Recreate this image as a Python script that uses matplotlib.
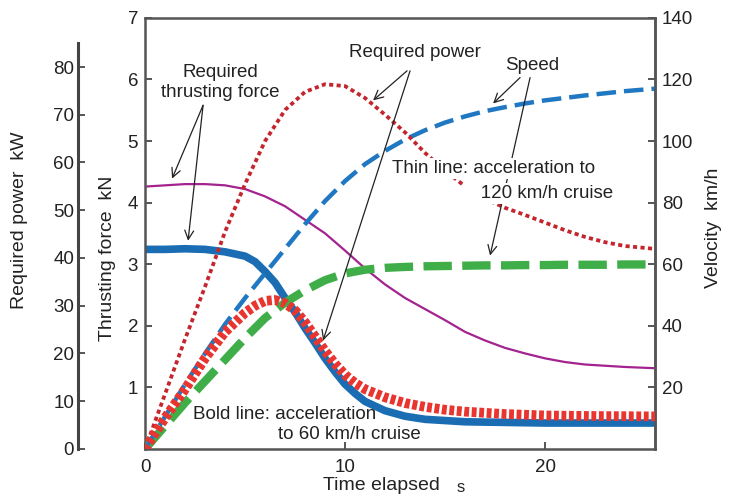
import matplotlib.pyplot as plt

plt.rcParams['font.family'] = ['Liberation Sans', 'DejaVu Sans']

# time axes (s)
t_grid = [0, 1, 2, 3, 4, 5, 6, 7, 8, 9, 10, 11, 12, 13, 14, 15, 16, 17, 18, 19, 20, 21, 22, 23, 24, 25.5]
t_fine = [0, 1, 2, 3, 4, 5, 5.5, 6, 6.5, 7, 7.5, 8, 8.5, 9, 9.5, 10, 10.5, 11, 12, 13, 14, 15, 16, 18, 20, 22, 25.5]

# thin line: acceleration to 120 km/h cruise
force_thin = [4.26, 4.28, 4.30, 4.30, 4.28, 4.22, 4.10, 3.94, 3.72, 3.50, 3.22, 2.93, 2.67, 2.45, 2.27, 2.09,
              1.90, 1.76, 1.64, 1.55, 1.47, 1.41, 1.37, 1.35, 1.33, 1.31]          # kN
speed_thin = [0, 10.5, 21, 31, 40.5, 49, 57, 65, 73, 80.5, 87, 92.5, 96.8, 100.5, 103.5, 106,
              108, 109.7, 111, 112.2, 113.2, 114, 114.8, 115.5, 116.2, 117]         # km/h
power_thin = [0, 11.5, 23, 34, 45.5, 55.5, 64.5, 71, 74.8, 76.4, 76, 73.5, 70, 66.3, 62, 58.3,
              55, 52.4, 50.5, 49, 47.4, 45.8, 44.4, 43.3, 42.5, 41.9]               # kW

# bold line: acceleration to 60 km/h cruise
speed_bold = [0, 7.5, 15, 22, 29, 36, 42.5, 47.5, 51.5, 54.8, 57, 58.2, 58.8, 59.1, 59.3, 59.4,
              59.5, 59.6, 59.6, 59.7, 59.7, 59.8, 59.8, 59.8, 59.9, 59.9]           # km/h
force_bold = [3.24, 3.24, 3.25, 3.24, 3.20, 3.13, 3.04, 2.88, 2.70, 2.45, 2.22, 1.96, 1.72, 1.47,
              1.25, 1.05, 0.90, 0.77, 0.62, 0.53, 0.48, 0.46, 0.44, 0.43, 0.42, 0.42, 0.42]  # kN
power_bold = [0, 6.5, 12.5, 19, 24.5, 28.5, 30, 31, 31.2, 30.5, 29, 26.5, 23.5, 20.5, 17.8, 15.5,
              13.8, 12.5, 10.8, 9.6, 8.8, 8.2, 7.8, 7.3, 7.0, 6.9, 6.8]              # kW

spine_c = '#555555'
text_c = '#222222'

fig = plt.figure(figsize=(7.29, 4.96), dpi=100)
ax = fig.add_axes([0.199, 0.095, 0.6996, 0.869])
ax2 = ax.twinx()
ax3 = ax.twinx()

ax.set_xlim(0, 25.5)
ax.set_ylim(0, 7)
ax2.set_ylim(0, 140)
ax3.set_ylim(0, 90.3)

# force (left axis)
ax.plot(t_grid, force_thin, color='#a3238f', lw=1.6)
ax.plot(t_fine, force_bold, color='#1a6db3', lw=5.5)
# speed (right axis)
ax2.plot(t_grid, speed_bold, color='#3fae49', lw=6, dashes=(3.4, 1.25))
ax2.plot(t_grid, speed_thin, color='#1f78c1', lw=3.2, dashes=(4.4, 1.8))
# power (outer left axis)
ax3.plot(t_grid, power_thin, color='#c4262e', lw=2.7, dashes=(1.1, 0.9))
ax3.plot(t_fine, power_bold, color='#e8352f', lw=7, dashes=(0.5, 0.27))

# spines
for s in ax.spines.values():
    s.set_color(spine_c)
    s.set_linewidth(1.8)
for s in ['top', 'left', 'bottom']:
    ax2.spines[s].set_visible(False)
ax2.spines['right'].set_color(spine_c)
ax2.spines['right'].set_linewidth(1.8)
for s in ['top', 'right', 'bottom']:
    ax3.spines[s].set_visible(False)
ax3.spines['left'].set_position(('axes', -0.131))
ax3.spines['left'].set_bounds(0, 85)
ax3.spines['left'].set_color('#444444')
ax3.spines['left'].set_linewidth(2.2)
ax3.yaxis.set_ticks_position('left')
ax3.yaxis.set_label_position('left')

# ticks
ax.set_xticks([0, 10, 20])
ax.set_yticks([1, 2, 3, 4, 5, 6, 7])
ax2.set_yticks([20, 40, 60, 80, 100, 120, 140])
ax3.set_yticks([0, 10, 20, 30, 40, 50, 60, 70, 80])
for a in (ax, ax2, ax3):
    a.tick_params(direction='in', length=5, width=1.4, color=spine_c, labelsize=13.5, labelcolor=text_c)
ax.tick_params(top=False, right=False)
ax.tick_params(axis='x', pad=7)
ax.tick_params(axis='y', pad=5)
ax2.tick_params(axis='y', pad=5)
ax3.tick_params(axis='y', pad=3)

# axis labels
fig.text(20 / 729, 1 - 220 / 496, 'Required power  kW', rotation=90, ha='center', va='center', fontsize=14, color=text_c)
fig.text(107 / 729, 1 - 258 / 496, 'Thrusting force  kN', rotation=90, ha='center', va='center', fontsize=14, color=text_c)
fig.text(713 / 729, 1 - 228 / 496, 'Velocity  km/h', rotation=90, ha='center', va='center', fontsize=14, color=text_c)
fig.text(381 / 729, 1 - 486 / 496, 'Time elapsed', ha='center', va='center', fontsize=14, color=text_c)
fig.text(461 / 729, 1 - 487 / 496, 's', ha='center', va='center', fontsize=12, color=text_c)

# annotations (in force/time coordinates)
tr = ax.transData
def arrow(start, end):
    ax3.annotate('', xy=end, xytext=start, xycoords=tr, textcoords=tr, zorder=3,
                 arrowprops=dict(arrowstyle='->', color=text_c, lw=0.9, mutation_scale=16,
                                 shrinkA=0, shrinkB=0))

ax3.text(3.75, 5.95, 'Required\nthrusting force', transform=tr, ha='center', va='center',
         fontsize=13.5, color=text_c, zorder=5)
arrow((2.9, 5.58), (1.35, 4.39))
arrow((2.9, 5.58), (2.15, 3.38))

ax3.text(13.5, 6.44, 'Required power', transform=tr, ha='center', va='center', fontsize=13.5, color=text_c, zorder=5)
arrow((13.1, 6.14), (11.4, 5.66))
arrow((13.25, 6.14), (8.9, 1.76))

ax3.text(19.35, 6.23, 'Speed', transform=tr, ha='center', va='center', fontsize=13.5, color=text_c, zorder=5)
arrow((18.75, 6.03), (17.4, 5.61))
arrow((19.25, 6.03), (17.25, 3.14))

box = dict(facecolor='white', edgecolor='none', pad=1.5)
ax3.text(12.35, 4.55, 'Thin line: acceleration to', transform=tr, ha='left', va='center',
         fontsize=13.5, color=text_c, zorder=5, bbox=box)
ax3.text(16.0, 4.15, '   120 km/h cruise', transform=tr, ha='left', va='center',
         fontsize=13.5, color=text_c, zorder=5, bbox=box)

ax3.text(2.4, 0.56, 'Bold line: acceleration', transform=tr, ha='left', va='center',
         fontsize=13.5, color=text_c, zorder=5)
ax3.text(6.65, 0.235, 'to 60 km/h cruise', transform=tr, ha='left', va='center',
         fontsize=13.5, color=text_c, zorder=5)

fig.savefig('out.png', dpi=100)
